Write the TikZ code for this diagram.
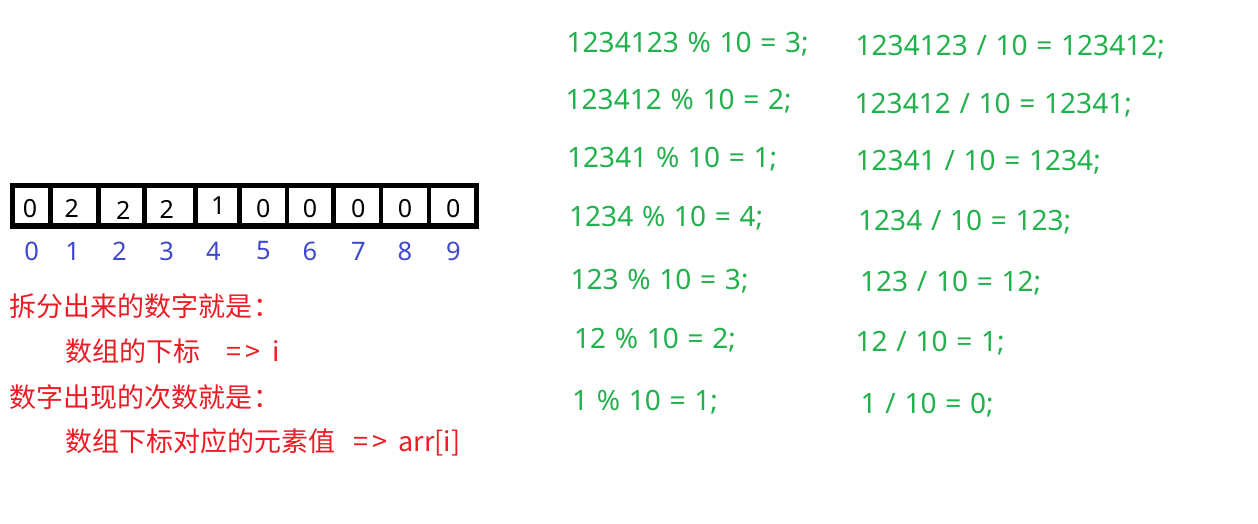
\documentclass[tikz,border=0pt]{standalone}
\usepackage{fontspec}
\setmainfont{Noto Sans}
\newfontfamily\eqfont[WordSpace=1.2]{Noto Sans}
\newfontfamily\cjk{Noto Sans CJK SC}
\definecolor{pgreen}{RGB}{34,177,76}
\definecolor{pred}{RGB}{237,28,36}
\definecolor{pblue}{RGB}{63,72,204}
\tikzset{
  eq/.style={anchor=base west, inner sep=0pt, text=pgreen, font=\eqfont\fontsize{28}{30}\selectfont},
  note/.style={anchor=base west, inner sep=0pt, text=pred, font=\cjk\fontsize{27}{30}\selectfont},
  cellnum/.style={anchor=center, inner sep=0pt, text=black, font=\fontsize{25}{28}\selectfont},
  idxnum/.style={anchor=center, inner sep=0pt, text=pblue, font=\fontsize{25.5}{28}\selectfont},
  frame/.style={draw=black, line width=5.5pt},
  divider/.style={draw=black, line width=4.8pt}
}
\begin{document}
\begin{tikzpicture}[x=1pt,y=-1pt]
\useasboundingbox[fill=white] (0,0) rectangle (1258,524);

% array frame
\draw[frame] (12.5,185.3) rectangle (476.3,225.8);
\foreach \x in {50.3,98.3,144.7,195.3,239.3,287,333.7,381,429}
  \draw[divider] (\x,185.3) -- (\x,225.8);

% cell values
\node[cellnum] (c0) at (30,208.3) {0};
\node[cellnum] (c1) at (71.7,208.3) {2};
\node[cellnum] (c2) at (123.3,210.5) {2};
\node[cellnum] (c3) at (166.7,209.7) {2};
\node[cellnum] (c4) at (218.3,205.5) {1};
\node[cellnum] (c5) at (263.3,208.3) {0};
\node[cellnum] (c6) at (310,208.3) {0};
\node[cellnum] (c7) at (358.3,208.3) {0};
\node[cellnum] (c8) at (405,208.3) {0};
\node[cellnum] (c9) at (453.3,208.3) {0};

% indices
\node[idxnum] (i0) at (31.7,251) {0};
\node[idxnum] (i1) at (72.7,251) {1};
\node[idxnum] (i2) at (119.3,251) {2};
\node[idxnum] (i3) at (166.7,251) {3};
\node[idxnum] (i4) at (213.3,251) {4};
\node[idxnum] (i5) at (263.3,251) {5};
\node[idxnum] (i6) at (310,251) {6};
\node[idxnum] (i7) at (358.3,251) {7};
\node[idxnum] (i8) at (405,251) {8};
\node[idxnum] (i9) at (453.3,251) {9};

% red notes
\node[note] (n1) at (9,316.8) {拆分出来的数字就是\kern1pt：};
\node[note] (n2) at (65.5,361.8) {\makebox[161pt][l]{数组的下标}=\kern4pt>\hspace{12pt}i};
\node[note] (n3) at (9,407.8) {数字出现的次数就是\kern1pt：};
\node[note] (n4) at (65.5,451.3) {\makebox[288pt][l]{数组下标对应的元素值}=\kern4pt>\hspace{11pt}arr[i]};

% green equations, left column
\node[eq] (l1) at (566.5,52.7) {1234123 \% 10 = 3;};
\node[eq] (l2) at (565.5,110) {123412 \% 10 = 2;};
\node[eq] (l3) at (567,167.3) {12341 \% 10 = 1;};
\node[eq] (l4) at (569,226.7) {1234 \% 10 = 4;};
\node[eq] (l5) at (570.5,289) {123 \% 10 = 3;};
\node[eq] (l6) at (574,348.3) {12 \% 10 = 2;};
\node[eq] (l7) at (572,410) {1 \% 10 = 1;};

% green equations, right column
\node[eq] (r1) at (855.5,55.7) {1234123 / 10 = 123412;};
\node[eq] (r2) at (854.5,113.3) {123412 / 10 = 12341;};
\node[eq] (r3) at (855.5,170) {12341 / 10 = 1234;};
\node[eq] (r4) at (858,230) {1234 / 10 = 123;};
\node[eq] (r5) at (860,291.7) {123 / 10 = 12;};
\node[eq] (r6) at (855.5,351.7) {12 / 10 = 1;};
\node[eq] (r7) at (860.5,413.3) {1 / 10 = 0;};
\end{tikzpicture}
\end{document}
